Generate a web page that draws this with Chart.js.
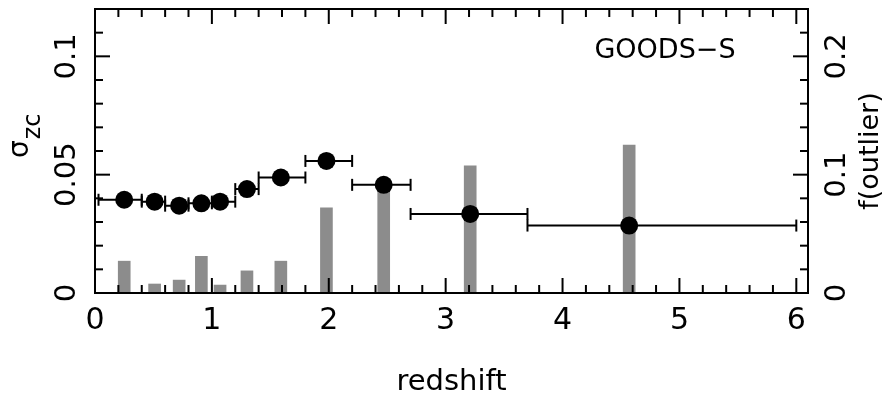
<!DOCTYPE html>
<html>
<head>
<meta charset="utf-8">
<script src="https://cdn.jsdelivr.net/npm/chart.js@4/dist/chart.umd.min.js"></script>
<style>
  html, body { margin: 0; background: #fff; }
</style>
</head>
<body>
<canvas id="zcChart" width="891" height="400"></canvas>
<script>
// redshift bins: centre, lower and upper edge
const zMid = [0.25, 0.51, 0.72, 0.91, 1.07, 1.30, 1.59, 1.98, 2.47, 3.21, 4.57];
const zLo = [0.03, 0.40, 0.60, 0.80, 1.00, 1.20, 1.40, 1.80, 2.20, 2.70, 3.70];
const zHi = [0.40, 0.60, 0.80, 1.00, 1.20, 1.40, 1.80, 2.20, 2.70, 3.70, 6.00];
const sigmaZc = [0.0394, 0.0386, 0.0369, 0.0379, 0.0386, 0.0439, 0.0488, 0.0558, 0.0457, 0.0334, 0.0285];
const fOutlier = [0.0269, 0.0076, 0.0109, 0.031, 0.0067, 0.0187, 0.0269, 0.0719, 0.09, 0.1074, 0.125];
const xTicks = [0, 1, 2, 3, 4, 5, 6];
const leftTicks = [0, 0.05, 0.1];
const rightTicks = [0, 0.1, 0.2];

const FONT = "'DejaVu Sans', 'Liberation Sans', sans-serif";

// error bar segments, broken with null points
const errData = [];
zLo.forEach((lo, i) => {
  errData.push({ x: lo, y: sigmaZc[i] });
  errData.push({ x: zHi[i], y: sigmaZc[i] });
  errData.push({ x: zHi[i], y: null });
});

function line(ctx, x1, y1, x2, y2) {
  ctx.beginPath();
  ctx.moveTo(x1, y1);
  ctx.lineTo(x2, y2);
  ctx.stroke();
}

// box, inward tick marks, rotated y labels and titles
const framePlugin = {
  id: "frame",
  afterDatasetsDraw(chart) {
    const { ctx, chartArea: a, scales } = chart;
    const { x, y, y2 } = scales;
    ctx.save();
    ctx.strokeStyle = "#000";
    ctx.lineWidth = 2;
    ctx.strokeRect(a.left, a.top, a.right - a.left, a.bottom - a.top);

    for (let i = 0; i <= 30; i++) {
      const px = x.getPixelForValue(i * 0.2);
      const len = i % 5 === 0 ? 15 : 8;
      line(ctx, px, a.bottom, px, a.bottom - len);
      line(ctx, px, a.top, px, a.top + len);
    }
    for (let i = 0; i <= 12; i++) {
      const len = i % 5 === 0 ? 15 : 8;
      const pl = y.getPixelForValue(i * 0.01);
      line(ctx, a.left, pl, a.left + len, pl);
      const pr = y2.getPixelForValue(i * 0.02);
      line(ctx, a.right, pr, a.right - len, pr);
    }

    ctx.fillStyle = "#000";
    ctx.font = "29px " + FONT;
    ctx.textAlign = "center";
    ctx.textBaseline = "alphabetic";
    leftTicks.forEach((v) => {
      ctx.save();
      ctx.translate(64, y.getPixelForValue(v));
      ctx.rotate(-Math.PI / 2);
      ctx.fillText(String(v), 0, 11);
      ctx.restore();
    });
    rightTicks.forEach((v) => {
      ctx.save();
      ctx.translate(834, y2.getPixelForValue(v));
      ctx.rotate(-Math.PI / 2);
      ctx.fillText(String(v), 0, 11);
      ctx.restore();
    });

    // right title
    ctx.font = "27px " + FONT;
    ctx.save();
    ctx.translate(878, (a.top + a.bottom) / 2);
    ctx.rotate(-Math.PI / 2);
    ctx.fillText("f(outlier)", 0, 0);
    ctx.restore();

    // left title: sigma with subscript zc
    ctx.save();
    ctx.translate(28, 158);
    ctx.rotate(-Math.PI / 2);
    ctx.textAlign = "left";
    ctx.font = "28px " + FONT;
    ctx.fillText("σ", 0, 0);
    const w = ctx.measureText("σ").width;
    ctx.font = "24px " + FONT;
    ctx.fillText("zc", w + 1, 12);
    ctx.restore();

    // field label
    ctx.font = "27px " + FONT;
    ctx.textAlign = "center";
    ctx.fillText("GOODS−S", 665, 58);
    ctx.restore();
  },
};

const ctx = document.getElementById("zcChart").getContext("2d");
new Chart(ctx, {
  type: "bar",
  data: {
    datasets: [
      {
        type: "scatter",
        label: "sigma",
        data: zMid.map((z, i) => ({ x: z, y: sigmaZc[i] })),
        backgroundColor: "#000",
        borderColor: "#000",
        pointRadius: 9,
        pointBorderWidth: 0,
        yAxisID: "y",
        order: 1,
      },
      {
        type: "line",
        label: "bins",
        data: errData,
        borderColor: "#000",
        borderWidth: 2,
        spanGaps: false,
        pointStyle: "line",
        pointRotation: 90,
        pointRadius: 6,
        pointBorderWidth: 2,
        pointBorderColor: "#000",
        yAxisID: "y",
        order: 2,
      },
      {
        type: "bar",
        label: "outliers",
        data: zMid.map((z, i) => ({ x: z, y: fOutlier[i] })),
        backgroundColor: "#8c8c8c",
        borderWidth: 0,
        barThickness: 12,
        yAxisID: "y2",
        order: 3,
      },
    ],
  },
  options: {
    responsive: false,
    animation: false,
    devicePixelRatio: 1,
    layout: { padding: { top: 7, left: 0, right: 0, bottom: 0 } },
    plugins: {
      legend: { display: false },
      tooltip: { enabled: false },
    },
    scales: {
      x: {
        type: "linear",
        min: 0,
        max: 6.1,
        offset: false,
        afterBuildTicks: (s) => {
          s.ticks = xTicks.map((v) => ({ value: v }));
        },
        afterFit: (s) => {
          s.height = 107;
        },
        grid: { display: false, drawTicks: false },
        border: { display: false },
        ticks: {
          color: "#000",
          padding: 10,
          font: { family: FONT, size: 30 },
        },
        title: {
          display: true,
          text: "redshift",
          color: "#000",
          padding: { top: 0, bottom: 0 },
          font: { family: FONT, size: 29 },
        },
      },
      y: {
        position: "left",
        min: 0,
        max: 0.12,
        afterFit: (s) => {
          s.width = 95;
        },
        grid: { display: false, drawTicks: false },
        border: { display: false },
        ticks: { display: false },
      },
      y2: {
        position: "right",
        min: 0,
        max: 0.24,
        afterFit: (s) => {
          s.width = 83;
        },
        grid: { display: false, drawTicks: false },
        border: { display: false },
        ticks: { display: false },
      },
    },
  },
  plugins: [framePlugin],
});
</script>
</body>
</html>
